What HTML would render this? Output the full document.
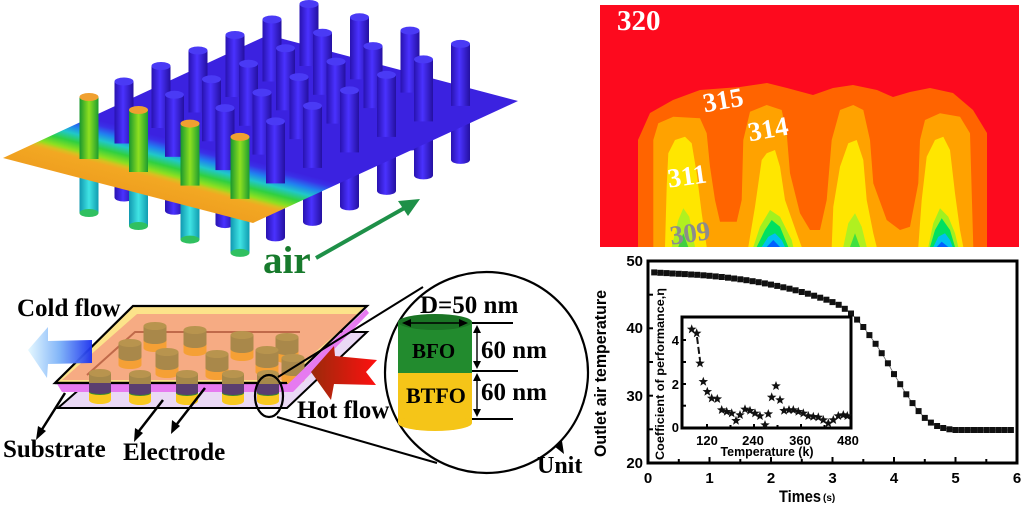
<!DOCTYPE html>
<html><head><meta charset="utf-8"><style>
html,body{margin:0;padding:0;background:#fff;}
svg{display:block;}
.sb{font-family:"Liberation Serif",serif;font-weight:bold;}
.ss{font-family:"Liberation Sans",sans-serif;font-weight:bold;}
</style></head><body>
<svg width="1024" height="505" viewBox="0 0 1024 505" xmlns="http://www.w3.org/2000/svg">
<defs>
<linearGradient id="gb" x1="0" y1="0" x2="1" y2="0"><stop offset="0" stop-color="#2812b0"/><stop offset="0.45" stop-color="#4a32ff"/><stop offset="1" stop-color="#2410a0"/></linearGradient>
<linearGradient id="gg" x1="0" y1="0" x2="1" y2="0"><stop offset="0" stop-color="#18962e"/><stop offset="0.5" stop-color="#8ee020"/><stop offset="1" stop-color="#1c9c30"/></linearGradient>
<linearGradient id="gc" x1="0" y1="0" x2="1" y2="0"><stop offset="0" stop-color="#1098b0"/><stop offset="0.5" stop-color="#40e4e4"/><stop offset="1" stop-color="#109cb0"/></linearGradient>
<linearGradient id="gp" gradientUnits="userSpaceOnUse" x1="130" y1="190.5" x2="145.3" y2="132.5">
<stop offset="0" stop-color="#f0a020"/><stop offset="0.3" stop-color="#f2a822"/><stop offset="0.36" stop-color="#d8c020"/><stop offset="0.42" stop-color="#8ee020"/><stop offset="0.55" stop-color="#30d040"/><stop offset="0.68" stop-color="#20c8c8"/><stop offset="0.8" stop-color="#2080f0"/><stop offset="0.92" stop-color="#3a30e8"/><stop offset="1" stop-color="#3b22e0"/></linearGradient>
<linearGradient id="gblue" x1="0" y1="0" x2="1" y2="0"><stop offset="0" stop-color="#e4f8ff"/><stop offset="0.5" stop-color="#7ab0f8"/><stop offset="1" stop-color="#1a30ee"/></linearGradient>
<linearGradient id="gred" x1="0" y1="0" x2="1" y2="0"><stop offset="0" stop-color="#9a2a0a"/><stop offset="1" stop-color="#ff1010"/></linearGradient>
<g id="lb"><rect x="-9.5" y="60" width="19" height="56" fill="url(#gb)"/><ellipse cx="0" cy="116" rx="9.5" ry="4" fill="url(#gb)"/></g>
<g id="ub"><rect x="-9.5" y="0" width="19" height="62" fill="url(#gb)"/><ellipse cx="0" cy="0" rx="9.5" ry="4" fill="#4a3af5"/></g>
<g id="lf"><rect x="-9.5" y="60" width="19" height="56" fill="url(#gc)"/><ellipse cx="0" cy="116" rx="9.5" ry="4" fill="#30c060"/></g>
<g id="uf"><rect x="-9.5" y="0" width="19" height="62" fill="url(#gg)"/><ellipse cx="0" cy="0" rx="9.5" ry="4" fill="#f0a030"/></g>
<g id="bc"><rect x="-11.5" y="0" width="23" height="22" fill="#f5a035"/><ellipse cx="0" cy="22" rx="11.5" ry="4" fill="#f5a035"/><rect x="-11.5" y="0" width="23" height="14" fill="#a9884a"/><ellipse cx="0" cy="14" rx="11.5" ry="4" fill="#a9884a"/><ellipse cx="0" cy="0" rx="11.5" ry="4" fill="#b8944e"/></g>
<g id="fc"><rect x="-11" y="0" width="22" height="27" fill="#f8c820"/><ellipse cx="0" cy="27" rx="11" ry="4" fill="#f8c820"/><rect x="-11" y="0" width="22" height="19" fill="#5a3e70"/><ellipse cx="0" cy="19" rx="11" ry="3" fill="#3a8a30"/><ellipse cx="0" cy="18" rx="11" ry="3" fill="#5a3e70"/><rect x="-11" y="0" width="22" height="10" fill="#a5884a"/><ellipse cx="0" cy="0" rx="11" ry="4" fill="#b8944e"/></g>
<path id="st" d="M0,-5 L1.24,-1.71 L4.76,-1.55 L2.0,0.65 L2.94,4.05 L0,2.1 L-2.94,4.05 L-2.0,0.65 L-4.76,-1.55 L-1.24,-1.71 Z" fill="#111"/>
</defs>

<!-- ========== 3D render top-left ========== -->
<g>
<use href="#lb" x="309" y="4"/><use href="#lb" x="359.5" y="17.3"/><use href="#lb" x="272" y="19.5"/><use href="#lb" x="410" y="30.6"/><use href="#lb" x="322.5" y="32.8"/><use href="#lb" x="235" y="35"/><use href="#lb" x="460.5" y="43.9"/><use href="#lb" x="373" y="46.1"/><use href="#lb" x="285.5" y="48.3"/><use href="#lb" x="198" y="50.5"/><use href="#lb" x="423.5" y="59.4"/><use href="#lb" x="336" y="61.6"/><use href="#lb" x="248.5" y="63.8"/><use href="#lb" x="161" y="66"/><use href="#lb" x="386.5" y="74.9"/><use href="#lb" x="299" y="77.1"/><use href="#lb" x="211.5" y="79.3"/><use href="#lb" x="124" y="81.5"/><use href="#lb" x="349.5" y="90.4"/><use href="#lb" x="262" y="92.6"/><use href="#lb" x="174.5" y="94.8"/><use href="#lf" x="89" y="97"/><use href="#lb" x="312.5" y="105.9"/><use href="#lb" x="225" y="108.1"/><use href="#lf" x="138.5" y="110"/><use href="#lb" x="275.5" y="121.4"/><use href="#lf" x="190" y="123.6"/><use href="#lf" x="240" y="136.9"/>
<polygon points="3,158 253,223 518,101 268,35" fill="url(#gp)"/>
<use href="#ub" x="309" y="4"/><use href="#ub" x="359.5" y="17.3"/><use href="#ub" x="272" y="19.5"/><use href="#ub" x="410" y="30.6"/><use href="#ub" x="322.5" y="32.8"/><use href="#ub" x="235" y="35"/><use href="#ub" x="460.5" y="43.9"/><use href="#ub" x="373" y="46.1"/><use href="#ub" x="285.5" y="48.3"/><use href="#ub" x="198" y="50.5"/><use href="#ub" x="423.5" y="59.4"/><use href="#ub" x="336" y="61.6"/><use href="#ub" x="248.5" y="63.8"/><use href="#ub" x="161" y="66"/><use href="#ub" x="386.5" y="74.9"/><use href="#ub" x="299" y="77.1"/><use href="#ub" x="211.5" y="79.3"/><use href="#ub" x="124" y="81.5"/><use href="#ub" x="349.5" y="90.4"/><use href="#ub" x="262" y="92.6"/><use href="#ub" x="174.5" y="94.8"/><use href="#uf" x="89" y="97"/><use href="#ub" x="312.5" y="105.9"/><use href="#ub" x="225" y="108.1"/><use href="#uf" x="138.5" y="110"/><use href="#ub" x="275.5" y="121.4"/><use href="#uf" x="190" y="123.6"/><use href="#uf" x="240" y="136.9"/>
<line x1="316" y1="258" x2="408" y2="206" stroke="#1e9048" stroke-width="4"/>
<polygon points="420,199 398,201 408,216" fill="#1e9048"/>
<text x="263" y="273" class="sb" font-size="39" fill="#177a2c">air</text>
</g>

<!-- ========== Heatmap top-right ========== -->
<g>
<rect x="600" y="5" width="419" height="242" fill="#fd0a1e"/>
<polygon fill="#ff6400" points="638,247 638,140 650,113 673,100 700,90 740,87 767,83 787,88 813,95 833,88 853,85 877,90 893,97 910,92 930,88 953,93 973,110 987,133 987,247"/>
<polygon fill="#ffa200" points="653.3,247 653.3,140 658.3,123.3 673.3,116.7 700,118.3 706.7,133.3 710,166.7 715,200 720,221.7 736.7,221.7 741.7,200 743.3,140 750,111.7 766.7,105 781.7,110 786.7,133.3 790,173.3 800,213.3 810,230 820,230 826.7,200 831.7,140 840,110 853.3,105 863.3,110 870,140 873.3,183.3 886.7,220 900,230 910,226.7 918.3,183.3 920,140 925,120 940,113.3 960,116.7 970,133.3 973.3,247"/>
<polygon fill="#ffe600" points="665,247 666.7,186.7 668.3,153.3 675,140 685,136.7 691.7,143.3 696.7,173.3 701.7,213.3 706.7,247"/>
<polygon fill="#ffe600" points="748.3,247 755,206.7 761.7,160 766.7,153.3 775,150 780,166.7 785,200 796.7,233.3 801.7,247"/>
<polygon fill="#ffe600" points="831.7,247 833.3,206.7 840,166.7 848.3,143.3 856.7,140 863.3,160 866.7,200 873.3,233.3 876.7,247"/>
<polygon fill="#ffe600" points="918.3,247 921.7,200 926.7,156.7 935,140 943.3,136.7 950,150 955,193.3 960,230 963.3,247"/>
<polygon fill="#b0f020" points="671.7,247 678.3,220 683.3,208.3 689.3,216.7 695,247"/>
<polygon fill="#40d040" points="678.3,247 683.3,233.3 688.3,247"/>
<polygon fill="#a0f020" points="753.3,247 760,226.7 770,210 780,216.7 791.7,240 793.3,247"/>
<polygon fill="#00e060" points="756.7,247 765,230 771.7,220 780,226.7 788.3,247"/>
<polygon fill="#00c0f0" points="761.7,247 768.3,236.7 775,233.3 781.7,240 785,247"/>
<polygon fill="#0060ff" points="766.7,247 773.3,240 780,247"/>
<polygon fill="#b0f020" points="843.3,247 848.3,223.3 855,213.3 861.7,226.7 866.7,247"/>
<polygon fill="#40e040" points="850,247 855,233.3 860,247"/>
<polygon fill="#a0f020" points="928.3,247 933.3,223.3 940,208.3 948.3,216.7 955,233.3 958.3,247"/>
<polygon fill="#00e060" points="930,247 935,230 941.7,218.3 950,230 955,247"/>
<polygon fill="#00c0f0" points="933.3,247 938.3,236.7 945,233.3 950,240 952.7,247"/>
<polygon fill="#0060ff" points="936.7,247 941.7,241.7 948.3,247"/>
<text x="617" y="30" class="sb" font-size="29" fill="#fff">320</text>
<text x="723" y="109" class="sb" font-size="27" fill="#fff" text-anchor="middle" transform="rotate(-10 723 100)">315</text>
<text x="768" y="138" class="sb" font-size="27" fill="#fff" text-anchor="middle" transform="rotate(-10 768 129)">314</text>
<text x="687" y="185" class="sb" font-size="27" fill="#fff" text-anchor="middle" transform="rotate(-8 687 176)">311</text>
<text x="690" y="242" class="sb" font-size="27" fill="#8c8c8c" text-anchor="middle" transform="rotate(-8 690 233)">309</text>
</g>

<!-- ========== Bottom-left device diagram ========== -->
<g>
<polygon points="58,408 145,332 367,332 287,408" fill="#ead9f5" stroke="#000" stroke-width="2"/>
<polygon points="55,383 133,306 367,306 287,383" fill="#fce38a" stroke="none"/>
<polygon points="62,380 137,314 359,314 283,380" fill="#f6ab83"/>
<polygon points="55,383 133,306 367,306 287,383" fill="none" stroke="#000" stroke-width="2.2"/>
<polyline points="87,375 135,332 300,332" fill="none" stroke="#c06a4a" stroke-width="2"/>
<use href="#bc" x="155" y="326"/><use href="#bc" x="195" y="330"/><use href="#bc" x="242" y="335"/><use href="#bc" x="287" y="337"/>
<use href="#bc" x="130" y="343"/><use href="#bc" x="167" y="352"/><use href="#bc" x="217" y="354"/><use href="#bc" x="267" y="350"/><use href="#bc" x="293" y="358"/>
<polygon points="57,384 288,384 366,309 369,313 293,392 62,392" fill="#e67af0"/>
<line x1="55" y1="383" x2="287" y2="383" stroke="#000" stroke-width="2.2"/>
<use href="#fc" x="100" y="373"/><use href="#fc" x="140" y="374"/><use href="#fc" x="187" y="374"/><use href="#fc" x="233" y="374"/><use href="#fc" x="268" y="374"/>
<line x1="58" y1="408" x2="287" y2="408" stroke="#000" stroke-width="2"/>
<polygon points="28,350 48,327 48,341 92,340 92,363 48,364 47,378" fill="url(#gblue)" opacity="0.95"/>
<polygon points="311,372 334,346 335,356 377,360 366,372 376,385 334,384 331,400" fill="url(#gred)"/>
<g stroke="#000" stroke-width="2.5">
<line x1="65" y1="393" x2="41" y2="431"/>
<line x1="163" y1="400" x2="139" y2="431"/>
<line x1="205" y1="388" x2="177" y2="424"/>
<line x1="547" y1="427" x2="560" y2="447"/>
</g>
<polygon points="36,440 38,426 46,431" fill="#000"/>
<polygon points="134,442 135,428 143,433" fill="#000"/>
<polygon points="171,434 172,420 180,426" fill="#000"/>
<polygon points="564,454 554,446 562,441" fill="#000"/>
<ellipse cx="269" cy="396" rx="14" ry="21" fill="none" stroke="#000" stroke-width="2.2"/>
<line x1="278" y1="377" x2="423" y2="287" stroke="#000" stroke-width="2"/>
<line x1="277" y1="417" x2="437" y2="463" stroke="#000" stroke-width="2"/>
<ellipse cx="486.5" cy="372.5" rx="101.5" ry="100.5" fill="#fff" stroke="#000" stroke-width="2.2"/>
<rect x="398" y="373" width="74" height="50" fill="#f5c518"/>
<ellipse cx="435" cy="423" rx="37" ry="8" fill="#f5c518"/>
<rect x="398" y="322" width="74" height="51" fill="#228b2e"/>
<ellipse cx="435" cy="322" rx="37" ry="8" fill="#1a7424"/>
<g stroke="#000" stroke-width="2">
<line x1="472" y1="323" x2="513" y2="323"/>
<line x1="472" y1="371" x2="518" y2="371"/>
<line x1="472" y1="419" x2="513" y2="419"/>
<line x1="408" y1="323" x2="462" y2="323" stroke-width="1.6"/>
<line x1="477" y1="330" x2="477" y2="364" stroke-width="1.4"/>
<line x1="477" y1="378" x2="477" y2="412" stroke-width="1.4"/>
</g>
<polygon points="402,323 411,319 411,327" fill="#000"/><polygon points="468,323 459,319 459,327" fill="#000"/>
<polygon points="477,325 473,333 481,333" fill="#000"/><polygon points="477,369 473,361 481,361" fill="#000"/>
<polygon points="477,373 473,381 481,381" fill="#000"/><polygon points="477,417 473,409 481,409" fill="#000"/>
<text x="17" y="316" class="sb" font-size="25" fill="#000">Cold flow</text>
<text x="3" y="457" class="sb" font-size="25" fill="#000">Substrate</text>
<text x="123" y="460" class="sb" font-size="25" fill="#000">Electrode</text>
<text x="297" y="418" class="sb" font-size="25" fill="#000">Hot flow</text>
<text x="420" y="313" class="sb" font-size="25" fill="#000">D=50 nm</text>
<text x="412" y="358" class="sb" font-size="21" fill="#000">BFO</text>
<text x="406" y="403" class="sb" font-size="22" fill="#000">BTFO</text>
<text x="481" y="358" class="sb" font-size="25" fill="#000">60 nm</text>
<text x="481" y="400" class="sb" font-size="25" fill="#000">60 nm</text>
<text x="537" y="473" class="sb" font-size="24" fill="#000">Unit</text>
</g>

<!-- ========== Chart bottom-right ========== -->
<g>
<rect x="648" y="261" width="369" height="202" fill="#fff" stroke="#000" stroke-width="3"/>
<g stroke="#000" stroke-width="2">
<line x1="648" y1="429.3" x2="653" y2="429.3"/><line x1="648" y1="395.7" x2="653" y2="395.7"/><line x1="648" y1="362" x2="653" y2="362"/><line x1="648" y1="328.3" x2="653" y2="328.3"/><line x1="648" y1="294.7" x2="653" y2="294.7"/>
<line x1="678.8" y1="463" x2="678.8" y2="459"/><line x1="709.5" y1="463" x2="709.5" y2="457"/><line x1="740.3" y1="463" x2="740.3" y2="459"/><line x1="771" y1="463" x2="771" y2="457"/><line x1="801.8" y1="463" x2="801.8" y2="459"/><line x1="832.5" y1="463" x2="832.5" y2="457"/><line x1="863.3" y1="463" x2="863.3" y2="459"/><line x1="894" y1="463" x2="894" y2="457"/><line x1="924.8" y1="463" x2="924.8" y2="459"/><line x1="955.5" y1="463" x2="955.5" y2="457"/><line x1="986.3" y1="463" x2="986.3" y2="459"/>
</g>
<g class="ss" font-size="15" fill="#000" text-anchor="end">
<text x="643" y="266">50</text><text x="643" y="333">40</text><text x="643" y="401">30</text><text x="643" y="468">20</text>
</g>
<g class="ss" font-size="15" fill="#000" text-anchor="middle">
<text x="648" y="483">0</text><text x="709.5" y="483">1</text><text x="771" y="483">2</text><text x="832.5" y="483">3</text><text x="894" y="483">4</text><text x="955.5" y="483">5</text><text x="1017" y="483">6</text>
</g>
<text x="779" y="502" class="ss" font-size="17" textLength="42" lengthAdjust="spacingAndGlyphs">Times</text>
<text x="823" y="501" class="ss" font-size="10">(s)</text>
<text x="0" y="0" class="ss" font-size="17" text-anchor="middle" textLength="167" lengthAdjust="spacingAndGlyphs" transform="translate(606 373.5) rotate(-90)">Outlet air temperature</text>

<polyline fill="none" stroke="#666" stroke-width="0.8" points="654.2,272.4 660.3,272.8 666.5,273.1 672.6,273.5 678.8,273.8 684.9,274.1 691.1,274.5 697.2,274.8 703.4,275.3 709.5,275.8 715.7,276.4 721.8,277 728,277.7 734.1,278.5 740.3,279.3 746.4,280.2 752.6,281.2 758.7,282.2 764.9,283.4 771,284.6 777.2,285.9 783.3,287.3 789.5,288.7 795.6,290.3 801.8,292 807.9,293.7 814.1,295.7 820.2,297.7 826.4,299.7 832.5,302.1 838.7,304.8 844.8,308.8 851,313.5 857.1,319.6 863.3,327 869.4,335.1 875.6,343.8 881.7,353.2 887.9,363.3 894,374.1 900.2,384.2 906.3,394.3 912.5,403.1 918.6,411.1 924.8,417.9 930.9,422.6 937.1,426 943.2,428 949.4,429.3 955.5,430 1010.9,430"/>
<g fill="#111" transform="translate(-0.5 -0.5)">
<rect x="651.7" y="269.9" width="6" height="6"/><rect x="657.8" y="270.3" width="6" height="6"/><rect x="664" y="270.6" width="6" height="6"/><rect x="670.1" y="271" width="6" height="6"/><rect x="676.3" y="271.3" width="6" height="6"/><rect x="682.4" y="271.6" width="6" height="6"/><rect x="688.6" y="272" width="6" height="6"/><rect x="694.7" y="272.3" width="6" height="6"/><rect x="700.9" y="272.8" width="6" height="6"/><rect x="707" y="273.3" width="6" height="6"/><rect x="713.2" y="273.9" width="6" height="6"/><rect x="719.3" y="274.5" width="6" height="6"/><rect x="725.5" y="275.2" width="6" height="6"/><rect x="731.6" y="276" width="6" height="6"/><rect x="737.8" y="276.8" width="6" height="6"/><rect x="743.9" y="277.7" width="6" height="6"/><rect x="750.1" y="278.7" width="6" height="6"/><rect x="756.2" y="279.7" width="6" height="6"/><rect x="762.4" y="280.9" width="6" height="6"/><rect x="768.5" y="282.1" width="6" height="6"/><rect x="774.7" y="283.4" width="6" height="6"/><rect x="780.8" y="284.8" width="6" height="6"/><rect x="787" y="286.2" width="6" height="6"/><rect x="793.1" y="287.8" width="6" height="6"/><rect x="799.3" y="289.5" width="6" height="6"/><rect x="805.4" y="291.2" width="6" height="6"/><rect x="811.6" y="293.2" width="6" height="6"/><rect x="817.7" y="295.2" width="6" height="6"/><rect x="823.9" y="297.2" width="6" height="6"/><rect x="830" y="299.6" width="6" height="6"/><rect x="836.2" y="302.3" width="6" height="6"/><rect x="842.3" y="306.3" width="6" height="6"/><rect x="848.5" y="311" width="6" height="6"/><rect x="854.6" y="317.1" width="6" height="6"/><rect x="860.8" y="324.5" width="6" height="6"/><rect x="866.9" y="332.6" width="6" height="6"/><rect x="873.1" y="341.3" width="6" height="6"/><rect x="879.2" y="350.7" width="6" height="6"/><rect x="885.4" y="360.8" width="6" height="6"/><rect x="891.5" y="371.6" width="6" height="6"/><rect x="897.7" y="381.7" width="6" height="6"/><rect x="903.8" y="391.8" width="6" height="6"/><rect x="910" y="400.6" width="6" height="6"/><rect x="916.1" y="408.6" width="6" height="6"/><rect x="922.3" y="415.4" width="6" height="6"/><rect x="928.4" y="420.1" width="6" height="6"/><rect x="934.6" y="423.5" width="6" height="6"/><rect x="940.7" y="425.5" width="6" height="6"/><rect x="946.9" y="426.8" width="6" height="6"/><rect x="953" y="427.5" width="6" height="6"/><rect x="959.2" y="427.5" width="6" height="6"/><rect x="965.3" y="427.5" width="6" height="6"/><rect x="971.5" y="427.5" width="6" height="6"/><rect x="977.6" y="427.5" width="6" height="6"/><rect x="983.8" y="427.5" width="6" height="6"/><rect x="989.9" y="427.5" width="6" height="6"/><rect x="996.1" y="427.5" width="6" height="6"/><rect x="1002.2" y="427.5" width="6" height="6"/><rect x="1008.4" y="427.5" width="6" height="6"/>
</g>

<rect x="682" y="317" width="169" height="111" fill="#fff" stroke="#000" stroke-width="3"/>
<g stroke="#000" stroke-width="2">
<line x1="682" y1="405.7" x2="686" y2="405.7"/><line x1="682" y1="384" x2="686" y2="384"/><line x1="682" y1="362" x2="686" y2="362"/><line x1="682" y1="340" x2="686" y2="340"/>
<line x1="707" y1="428" x2="707" y2="424"/><line x1="730.5" y1="428" x2="730.5" y2="425"/><line x1="754" y1="428" x2="754" y2="424"/><line x1="777.5" y1="428" x2="777.5" y2="425"/><line x1="801" y1="428" x2="801" y2="424"/><line x1="824.5" y1="428" x2="824.5" y2="425"/>
</g>
<line x1="697" y1="337" x2="700" y2="360" stroke="#111" stroke-width="2" stroke-dasharray="7,3"/>
<g>
<use href="#st" x="691.7" y="329.3"/><use href="#st" x="696.7" y="333.3"/><use href="#st" x="700" y="363.3"/><use href="#st" x="703.3" y="381.7"/><use href="#st" x="707.3" y="391.7"/><use href="#st" x="711.7" y="398.3"/><use href="#st" x="717.3" y="399"/><use href="#st" x="721.7" y="410"/><use href="#st" x="726.7" y="411.7"/><use href="#st" x="731.7" y="413.3"/><use href="#st" x="736" y="420.7"/><use href="#st" x="740" y="415"/><use href="#st" x="745" y="409.3"/><use href="#st" x="750" y="410.7"/><use href="#st" x="755" y="413.3"/><use href="#st" x="760" y="416"/><use href="#st" x="765" y="425"/><use href="#st" x="768.3" y="414"/><use href="#st" x="771.7" y="397.3"/><use href="#st" x="776" y="386"/><use href="#st" x="780" y="400"/><use href="#st" x="784" y="410.7"/><use href="#st" x="789" y="410"/><use href="#st" x="793.3" y="410"/><use href="#st" x="798.3" y="411.7"/><use href="#st" x="803.3" y="413.3"/><use href="#st" x="808.3" y="416"/><use href="#st" x="813.3" y="416.7"/><use href="#st" x="818.3" y="417.3"/><use href="#st" x="823.3" y="420"/><use href="#st" x="828.3" y="423.3"/><use href="#st" x="833.3" y="420"/><use href="#st" x="838.3" y="416"/><use href="#st" x="843.3" y="415"/><use href="#st" x="847.3" y="416"/>
</g>
<g class="ss" font-size="13" fill="#000" text-anchor="end">
<text x="679" y="345">4</text><text x="679" y="389">2</text><text x="679" y="432">0</text>
</g>
<g class="ss" font-size="13" fill="#000" text-anchor="middle">
<text x="707" y="445">120</text><text x="753" y="445">240</text><text x="800" y="445">360</text><text x="848" y="445">480</text>
</g>
<text x="767" y="456" class="ss" font-size="13" text-anchor="middle" textLength="93" lengthAdjust="spacingAndGlyphs">Temperature (k)</text>
<text x="0" y="0" class="ss" font-size="12" text-anchor="middle" textLength="172" lengthAdjust="spacingAndGlyphs" transform="translate(664 374) rotate(-90)">Coefficient of performance,η</text>
</g>
</svg>
</body></html>
